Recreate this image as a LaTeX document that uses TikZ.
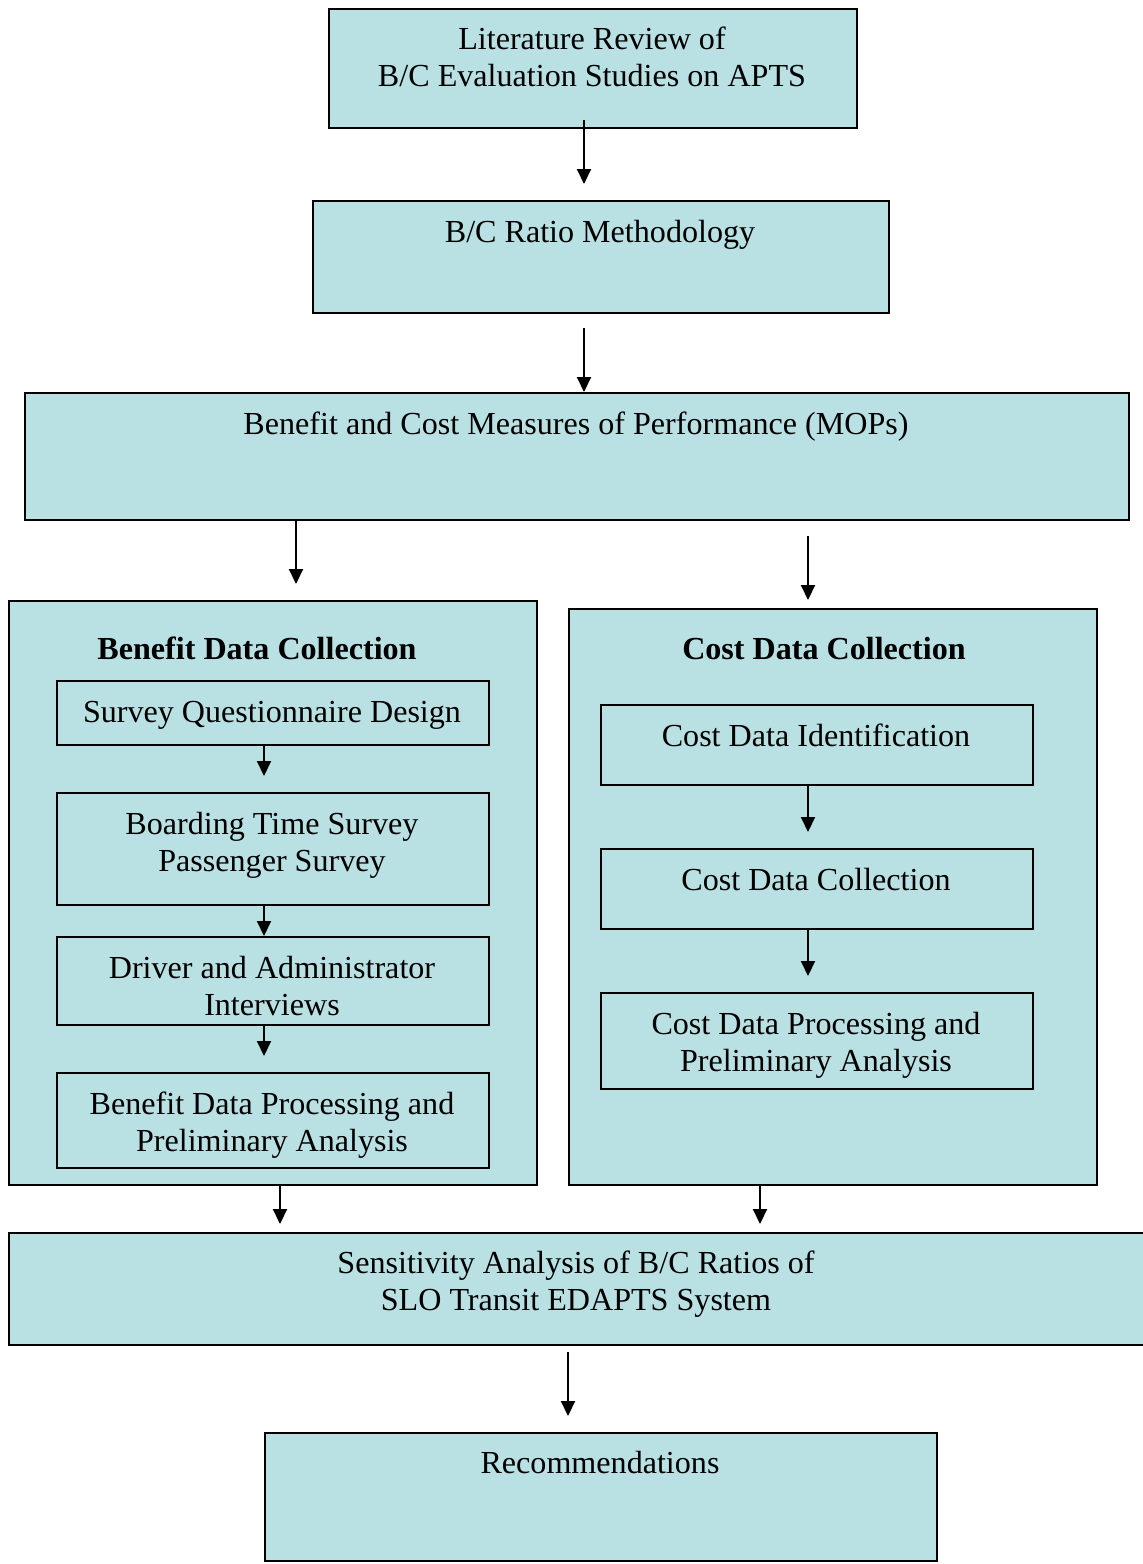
\documentclass[tikz,border=0pt]{standalone}
\usepackage{fontspec}
\setmainfont{Liberation Serif}
\usetikzlibrary{arrows.meta}
\definecolor{boxfill}{RGB}{185,224,227}
\begin{document}
\begin{tikzpicture}[x=1pt,y=-1pt,
  box/.style={draw=black,line width=2pt,fill=boxfill,rectangle,anchor=north west,inner sep=0pt},
  ibox/.style={draw=black,line width=2pt,rectangle,anchor=north west,inner sep=0pt},
  txt/.style={anchor=north,inner sep=0pt,align=center,font=\fontsize{32.1}{37}\selectfont},
  btxt/.style={txt,font=\fontsize{32.1}{37}\selectfont\bfseries},
  arr/.style={line width=2pt,-{Triangle[length=15pt,width=14pt]}}]
\useasboundingbox (0,0) rectangle (1143,1564);
\fill[white] (0,0) rectangle (1143,1564);
% main boxes
\node[box,minimum width=528pt,minimum height=119pt] (b1) at (328,8) {};
\node[box,minimum width=576pt,minimum height=112pt] (b2) at (312,200) {};
\node[box,minimum width=1104pt,minimum height=127pt] (b3) at (24,392) {};
\node[box,minimum width=528pt,minimum height=584pt] (ben) at (8,600) {};
\node[box,minimum width=528pt,minimum height=576pt] (cost) at (568,608) {};
\node[box,minimum width=1144pt,minimum height=112pt] (sens) at (8,1232) {};
\node[box,minimum width=672pt,minimum height=128pt] (rec) at (264,1432) {};
% inner boxes
\node[ibox,minimum width=432pt,minimum height=64pt] (sqd) at (56,680) {};
\node[ibox,minimum width=432pt,minimum height=112pt] (bts) at (56,792) {};
\node[ibox,minimum width=432pt,minimum height=88pt] (dai) at (56,936) {};
\node[ibox,minimum width=432pt,minimum height=95pt] (bdp) at (56,1072) {};
\node[ibox,minimum width=432pt,minimum height=80pt] (cdi) at (600,704) {};
\node[ibox,minimum width=432pt,minimum height=80pt] (cdc) at (600,848) {};
\node[ibox,minimum width=432pt,minimum height=96pt] (cdp) at (600,992) {};
% texts (north = first baseline - strut height 25.9)
\node[txt] (t1) at (592,23.1) {\strut Literature Review of\\B/C Evaluation Studies on APTS};
\node[txt] (t2) at (600,216.1) {\strut B/C Ratio Methodology};
\node[txt] (t3) at (576,408.1) {\strut Benefit and Cost Measures of Performance (MOPs)};
\node[btxt] (tben) at (257,633.1) {\strut Benefit Data Collection};
\node[btxt] (tcost) at (824,633.1) {\strut Cost Data Collection};
\node[txt] (tsqd) at (272,696.1) {\strut Survey Questionnaire Design};
\node[txt] (tbts) at (272,808.1) {\strut Boarding Time Survey\\Passenger Survey};
\node[txt] (tdai) at (272,952.1) {\strut Driver and Administrator\\Interviews};
\node[txt] (tbdp) at (272,1088.1) {\strut Benefit Data Processing and\\Preliminary Analysis};
\node[txt] (tcdi) at (816,720.1) {\strut Cost Data Identification};
\node[txt] (tcdc) at (816,864.1) {\strut Cost Data Collection};
\node[txt] (tcdp) at (816,1008.1) {\strut Cost Data Processing and\\Preliminary Analysis};
\node[txt] (tsens) at (576,1247.1) {\strut Sensitivity Analysis of B/C Ratios of\\SLO Transit EDAPTS System};
\node[txt] (trec) at (600,1447.6) {\strut Recommendations};
% arrow end points
\coordinate (a1s) at (584,120);  \coordinate (a1e) at (584,184);
\coordinate (a2s) at (584,328);  \coordinate (a2e) at (584,392);
\coordinate (a3e) at (296,584);
\coordinate (a4s) at (808,536);  \coordinate (a4e) at (808,600);
\coordinate (a5e) at (264,776);
\coordinate (a6e) at (264,936);
\coordinate (a7e) at (264,1056);
\coordinate (a8e) at (808,832);
\coordinate (a9e) at (808,976);
\coordinate (a10e) at (280,1224);
\coordinate (a11e) at (760,1224);
\coordinate (a12s) at (568,1352); \coordinate (a12e) at (568,1416);
% arrows
\draw[arr] (a1s) -- (a1e);
\draw[arr] (a2s) -- (a2e);
\draw[arr] (b3.south -| a3e) -- (a3e);
\draw[arr] (a4s) -- (a4e);
\draw[arr] (sqd.south -| a5e) -- (a5e);
\draw[arr] (bts.south -| a6e) -- (a6e);
\draw[arr] (dai.south -| a7e) -- (a7e);
\draw[arr] (cdi.south -| a8e) -- (a8e);
\draw[arr] (cdc.south -| a9e) -- (a9e);
\draw[arr] (ben.south -| a10e) -- (a10e);
\draw[arr] (cost.south -| a11e) -- (a11e);
\draw[arr] (a12s) -- (a12e);
\end{tikzpicture}
\end{document}
